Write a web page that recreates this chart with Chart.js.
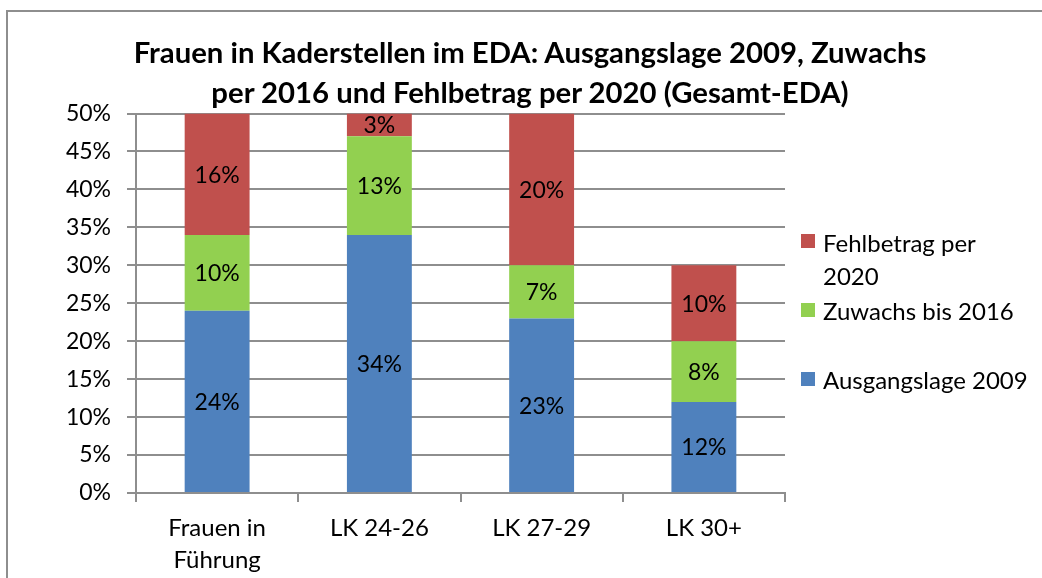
<!DOCTYPE html>
<html>
<head>
<meta charset="utf-8">
<script src="https://cdn.jsdelivr.net/npm/chart.js@4"></script>
<style>
  html, body { margin: 0; padding: 0; background: #fff; }
  #wrap { position: relative; width: 1042px; height: 578px; overflow: hidden; }
  #frame { position: absolute; left: 6px; top: 10px; width: 1100px; height: 700px; border: 2px solid #8e8e8e; box-sizing: border-box; }
  canvas { position: absolute; left: 0; top: 0; }
  #title { position: absolute; left: 30px; width: 1000px; top: 32px; text-align: center; font-family: Lato, sans-serif; font-weight: bold; font-size: 29.3px; line-height: 40px; color: #000; white-space: nowrap; }
  .lg { position: absolute; left: 823px; font-family: Lato, sans-serif; font-size: 24px; color: #000; line-height: 33px; white-space: nowrap; }
  .sw { position: absolute; left: 801px; width: 14px; height: 14px; }
</style>
</head>
<body>
<div id="wrap">
  <div id="frame"></div>
  <canvas id="c" width="1042" height="578"></canvas>
  <div id="title"></div>
  <div id="legend"></div>
</div>
<script>
const categories = [["Frauen in", "Führung"], "LK 24-26", "LK 27-29", "LK 30+"];
const seriesNames = ["Ausgangslage 2009", "Zuwachs bis 2016", "Fehlbetrag per 2020"];
const ausgangslage2009 = [24, 34, 23, 12];
const zuwachsBis2016 = [10, 13, 7, 8];
const fehlbetragPer2020 = [16, 3, 20, 10];
const yTicks = [0, 5, 10, 15, 20, 25, 30, 35, 40, 45, 50];
const colors = ["#4F81BD", "#92D050", "#C0504D"];
const titleLines = ["Frauen in Kaderstellen im EDA: Ausgangslage 2009, Zuwachs", "per 2016 und Fehlbetrag per 2020 (Gesamt-EDA)"];

const FONT = "Lato";
const gridColor = "#8e8e8e";

document.getElementById("title").innerHTML = titleLines.join("<br>");

const valueLabels = {
  id: "valueLabels",
  afterDatasetsDraw(chart) {
    const ctx = chart.ctx;
    ctx.save();
    ctx.font = "23px " + FONT;
    ctx.fillStyle = "#000";
    ctx.textAlign = "center";
    ctx.textBaseline = "middle";
    chart.data.datasets.forEach((ds, i) => {
      const meta = chart.getDatasetMeta(i);
      meta.data.forEach((el, j) => {
        const v = ds.data[j];
        if (!v) return;
        ctx.fillText(v + "%", el.x, (el.y + el.base) / 2 + 1);
      });
    });
    ctx.restore();
  }
};

new Chart(document.getElementById("c"), {
  type: "bar",
  data: {
    labels: categories,
    datasets: [
      { label: seriesNames[0], data: ausgangslage2009, backgroundColor: colors[0] },
      { label: seriesNames[1], data: zuwachsBis2016, backgroundColor: colors[1] },
      { label: seriesNames[2], data: fehlbetragPer2020, backgroundColor: colors[2] }
    ]
  },
  options: {
    responsive: false,
    animation: false,
    layout: { padding: { left: 0, right: 257, top: 113.5, bottom: 0 } },
    plugins: {
      legend: { display: false },
      tooltip: { enabled: false },
      title: { display: false }
    },
    datasets: { bar: { barPercentage: 0.4, categoryPercentage: 1.0 } },
    scales: {
      x: {
        stacked: true,
        offset: true,
        grid: { display: true, drawOnChartArea: false, drawTicks: true, tickLength: 9, color: gridColor, lineWidth: 2, offset: true },
        border: { display: true, color: gridColor, width: 2 },
        ticks: { color: "#000", font: { family: FONT, size: 24, lineHeight: 1.35 }, padding: 10, maxRotation: 0, autoSkip: false },
        afterFit(scale) { scale.height = 85; }
      },
      y: {
        stacked: true,
        min: 0,
        max: 50,
        afterBuildTicks(scale) { scale.ticks = yTicks.map(v => ({ value: v })); },
        grid: { color: gridColor, lineWidth: 2, tickLength: 9 },
        border: { display: true, color: gridColor, width: 2 },
        ticks: { color: "#000", font: { family: FONT, size: 23 }, padding: 16, callback: v => v + "%" },
        afterFit(scale) { scale.width = 136; }
      }
    }
  },
  plugins: [valueLabels]
});

// Legend (reversed order, as in reference)
const legend = document.getElementById("legend");
const legendItems = [
  { color: colors[2], lines: ["Fehlbetrag per", "2020"], top: 225.5, sq: 234 },
  { color: colors[1], lines: [seriesNames[1]], top: 293.5, sq: 303 },
  { color: colors[0], lines: [seriesNames[0]], top: 362.5, sq: 372 }
];
legendItems.forEach(it => {
  const sw = document.createElement("div");
  sw.className = "sw";
  sw.style.top = it.sq + "px";
  sw.style.background = it.color;
  legend.appendChild(sw);
  const t = document.createElement("div");
  t.className = "lg";
  t.style.top = it.top + "px";
  t.innerHTML = it.lines.join("<br>");
  legend.appendChild(t);
});
</script>
</body>
</html>
